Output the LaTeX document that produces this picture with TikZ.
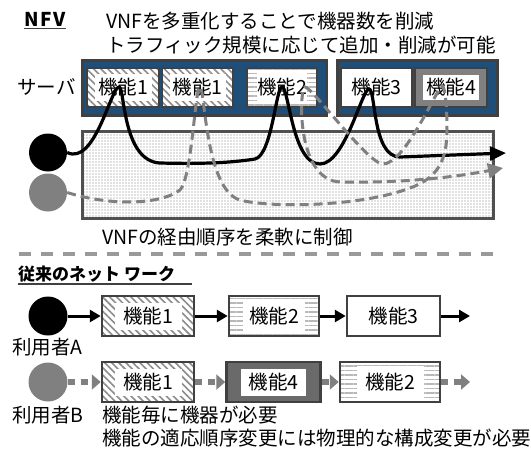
\documentclass[tikz,border=0pt]{standalone}
\usepackage{fontspec}
\setmainfont{Noto Sans CJK JP}
\usetikzlibrary{arrows.meta,patterns,patterns.meta}
\definecolor{dk}{HTML}{404040}
\definecolor{blu}{HTML}{1F4E79}
\definecolor{mg}{HTML}{808080}
\definecolor{hg}{HTML}{8C8C8C}
\definecolor{lg}{HTML}{B8B8B8}
\definecolor{bfour}{HTML}{6A6A6A}
\definecolor{dvd}{HTML}{9A9A9A}
\definecolor{dotb}{HTML}{505050}
\begin{document}
\begin{tikzpicture}[x=1pt,y=-1pt,
  font=\fontsize{19.5}{23}\selectfont,
  srvbox/.style={draw=dk, fill=blu, line width=3pt, inner sep=0pt, minimum height=55pt},
  fbox/.style={draw=dk, line width=2.5pt, fill=white, inner sep=0pt, minimum height=39pt},
  rbox/.style={draw=dk, line width=2.5pt, fill=white, inner sep=0pt, minimum height=40pt},
  diag/.style={preaction={fill=white}, pattern={Lines[angle=-45,distance=5pt,line width=1.6pt]}, pattern color=hg},
  horiz/.style={preaction={fill=white}, pattern={Lines[angle=0,distance=4.5pt,line width=1.3pt]}, pattern color=lg},
  ftext/.style={fill=white, inner sep=0pt},
  blk/.style={draw=black, line width=3.2pt},
  gdash/.style={draw=mg, line width=3pt, dash pattern=on 9pt off 5pt},
  arrA/.style={draw=black, line width=3pt, -{Triangle[length=11pt,width=12pt]}},
  arrB/.style={draw=mg, line width=6pt, dash pattern=on 7pt off 6pt, -{Triangle[length=9pt,width=15pt]}},
  plain/.style={inner sep=0pt}
]
\useasboundingbox (0,0) rectangle (531,456);

% ---------- top texts ----------
\node[plain, font=\bfseries\fontsize{19}{22}\selectfont\addfontfeatures{LetterSpace=8}] (nfv) at (45,19) {NFV};
\draw[line width=1.5pt, dk] (24,28.5) -- (66,28.5);
\node[plain, anchor=west] (t1) at (106,21) {VNFを多重化することで機器数を削減};
\node[plain, anchor=west] (t2) at (106,45) {トラフィック規模に応じて追加・削減が可能};
\node[plain] (srv) at (46.5,87) {サーバ};

% ---------- lower dotted box ----------
\node[draw=dotb, line width=3pt, preaction={fill=white}, pattern={Dots[distance=3pt,radius=0.55pt]}, pattern color=mg,
      minimum width=411pt, minimum height=87pt, inner sep=0pt] (net) at (287.5,174.5) {};

% ---------- servers ----------
\node[srvbox, minimum width=244pt] (s1) at (204,87.5) {};
\node[srvbox, minimum width=160pt] (s2) at (417,87.5) {};

\node[fbox, diag, minimum width=72pt] (f1a) at (123,87.5) {};
\node[ftext, minimum width=57pt, minimum height=27pt] (f1at) at (f1a) {機能1};
\node[fbox, diag, minimum width=71pt] (f1b) at (197.5,87.5) {};
\node[ftext, minimum width=56pt, minimum height=27pt] (f1bt) at (f1b) {機能1};
\node[fbox, horiz, minimum width=70pt] (f2) at (282,87.5) {};
\node[ftext, minimum width=50pt, minimum height=31pt] (f2t) at (f2) {機能2};
\node[fbox, minimum width=71pt] (f3) at (376.5,87.5) {機能3};
\node[fbox, fill=mg, minimum width=72pt] (f4) at (451,87.5) {};
\node[ftext, minimum width=56pt, minimum height=25pt] (f4t) at (f4) {機能4};

% ---------- users (top) ----------
\node[circle, fill=black, minimum size=38pt, inner sep=0pt] (ca) at (48,152.5) {};
\node[circle, fill=mg, minimum size=38pt, inner sep=0pt] (cb) at (48,192.5) {};
\coordinate (enda) at (506,153);
\coordinate (endb) at (503,168);

\draw[blk, -{Triangle[length=16pt,width=14pt]}] (ca.east)
  .. controls (95,166) and (111,87) .. (119,87)
  .. controls (125,87) and (122,161) .. (160,163)
  .. controls (200,164) and (230,163) .. (255,159)
  .. controls (272,155) and (276,87) .. (282,87)
  .. controls (289,87) and (292,164) .. (320,164)
  .. controls (345,164) and (362,89) .. (369,89)
  .. controls (376,89) and (372,157) .. (400,157)
  -- (enda);

\draw[gdash, -{Triangle[length=15pt,width=15pt]}] (cb.east)
  .. controls (110,206) and (160,205) .. (180,190)
  .. controls (192,178) and (195,87) .. (200,87)
  .. controls (205,87) and (205,190) .. (240,200)
  .. controls (270,208) and (360,207) .. (410,188)
  .. controls (438,178) and (447,160) .. (447,130)
  .. controls (447,105) and (445,86) .. (442,86)
  .. controls (436,90) and (405,164) .. (383,164)
  .. controls (368,164) and (312,87) .. (305,87)
  .. controls (299,89) and (296,180) .. (340,182)
  .. controls (400,183) and (450,178) .. (endb);

\node[plain, anchor=west] (t3) at (102,237) {VNFの経由順序を柔軟に制御};

% ---------- divider ----------
\draw[dvd, line width=4pt, dash pattern=on 12pt off 10pt] (19,254) -- (502,254);

% ---------- conventional network ----------
\node[plain, anchor=west, font=\bfseries\fontsize{17}{20}\selectfont] (h2) at (18,274) {従来のネット ワーク};
\draw[line width=1.5pt, dk] (18,284) -- (192,284);

\node[circle, fill=black, minimum size=39pt, inner sep=0pt] (ua) at (48,316) {};
\node[rbox, diag, minimum width=92pt] (a1) at (148,316) {};
\node[ftext, minimum width=67pt, minimum height=27pt] (a1t) at (a1) {機能1};
\node[rbox, horiz, minimum width=90pt] (a2) at (274,316) {};
\node[ftext, minimum width=62pt, minimum height=32pt] (a2t) at (a2) {機能2};
\node[rbox, minimum width=93pt] (a3) at (393.5,316) {機能3};
\coordinate (aend) at (470,316);
\draw[arrA] (ua) -- (a1);
\draw[arrA] (a1) -- (a2);
\draw[arrA] (a2) -- (a3);
\draw[arrA] (a3) -- (aend);
\node[plain, anchor=west] (la) at (12,347) {利用者A};

\node[circle, fill=mg, minimum size=39pt, inner sep=0pt] (ub) at (48,382) {};
\node[rbox, diag, minimum width=92pt] (b1) at (148,382) {};
\node[ftext, minimum width=67pt, minimum height=27pt] (b1t) at (b1) {機能1};
\node[rbox, fill=bfour, minimum width=94pt] (b4) at (273.5,382) {};
\node[ftext, minimum width=65pt, minimum height=27pt] (b4t) at (b4) {機能4};
\node[rbox, horiz, minimum width=100pt] (b2) at (390,382) {};
\node[ftext, minimum width=67pt, minimum height=32pt] (b2t) at (b2) {機能2};
\coordinate (bend) at (470,382);
\draw[arrB] (ub) -- (b1);
\draw[arrB] (b1) -- (b4);
\draw[arrB] (b4) -- (b2);
\draw[arrB] (b2) -- (bend);

\node[plain, anchor=west] (lb) at (12,415) {利用者B};
\node[plain, anchor=west] (n1) at (102,415) {機能毎に機器が必要};
\node[plain, anchor=west] (n2) at (102,438) {機能の適応順序変更には物理的な構成変更が必要};
\end{tikzpicture}
\end{document}
